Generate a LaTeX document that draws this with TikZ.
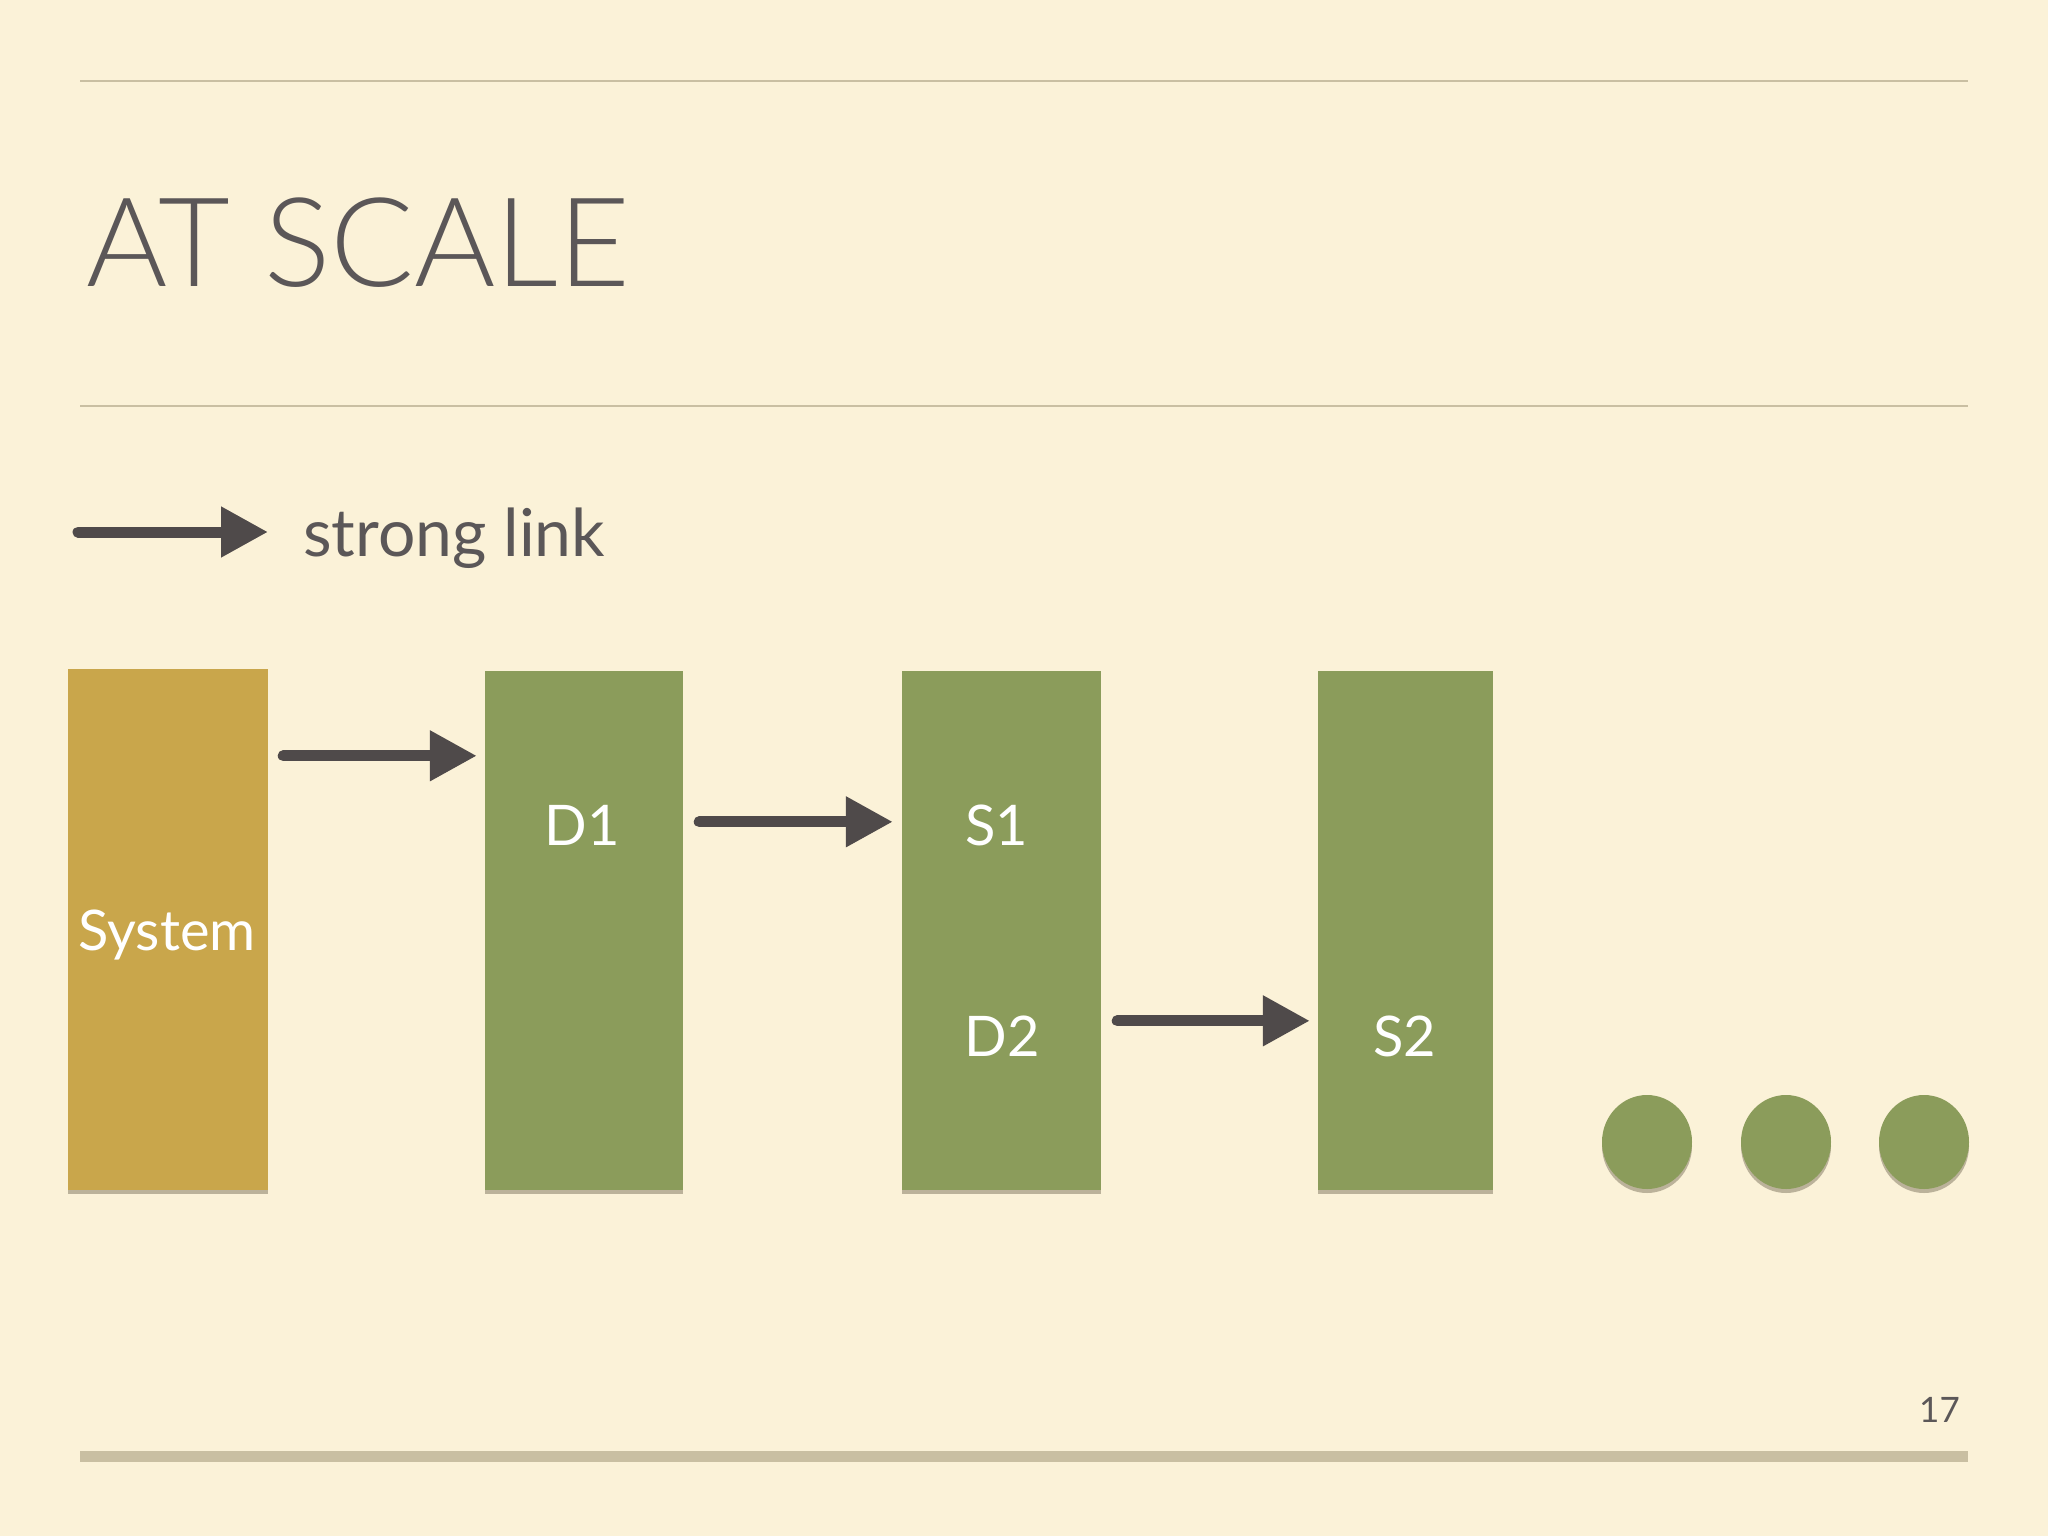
\documentclass[tikz,border=0pt]{standalone}
\usepackage{fontspec}
\setmainfont{Lato}
\newfontfamily\titlefont{Lato Light}
\usetikzlibrary{arrows.meta,shadows,calc,shapes.geometric}
\definecolor{bg}{HTML}{FBF2D8}
\definecolor{rulec}{HTML}{C9BFA2}
\definecolor{txt}{HTML}{5B5758}
\definecolor{sysc}{HTML}{C9A64B}
\definecolor{grn}{HTML}{8B9C5B}
\definecolor{arrc}{HTML}{4F4A4A}
\definecolor{shd}{HTML}{6E6650}
\tikzset{
  box/.style={draw=none, inner sep=0pt, drop shadow={shadow xshift=0pt, shadow yshift=-4pt, fill=shd, opacity=0.45}},
  dotnode/.style={ellipse, fill=grn, draw=none, inner sep=0pt, minimum width=90pt, minimum height=94pt, drop shadow={shadow xshift=0pt, shadow yshift=-4pt, fill=shd, opacity=0.45}},
  lbl/.style={anchor=base, inner sep=0pt, text=white, font=\fontsize{56}{56}\selectfont},
  link/.style={line width=11pt, draw=arrc, line cap=round, -{Triangle[length=47pt,width=48pt]}},
  rule/.style={draw=rulec, line width=2pt}
}
\begin{document}
\begin{tikzpicture}[x=1pt,y=-1pt]
\fill[bg] (0,0) rectangle (2048,1536);
\useasboundingbox (0,0) rectangle (2048,1536);
% rules
\draw[rule] (80,81) -- (1968,81);
\draw[rule] (80,406) -- (1968,406);
\draw[draw=rulec, line width=11pt] (80,1456) -- (1968,1456);
% title
\node[anchor=base west, inner sep=0pt, text=txt, font=\titlefont\fontsize{124}{124}\selectfont] (title) at (86,286) {AT SCALE};
% legend
\node[anchor=base west, inner sep=0pt, text=txt, font=\fontsize{66}{66}\selectfont] (lgt) at (303,556) {strong link};
\coordinate (lgs) at (78,532);
\draw[link] (lgs) -- ($(lgt.base west)+(-35,-24)$);
% boxes
\node[box, fill=sysc, minimum width=200pt, minimum height=521pt] (sys) at (168,929.5) {};
\node[box, fill=grn, minimum width=198pt, minimum height=519pt] (d1) at (584,930.5) {};
\node[box, fill=grn, minimum width=199pt, minimum height=519pt] (s1) at (1001.5,930.5) {};
\node[box, fill=grn, minimum width=175pt, minimum height=519pt] (s2) at (1405.5,930.5) {};
% labels
\node[lbl] (lsys) at (167,950) {System};
\node[lbl] (ld1) at (582,845) {D1};
\node[lbl] (ls1) at (997,845) {S1};
\node[lbl] (ld2) at (1002,1056) {D2};
\node[lbl] (ls2) at (1405,1056) {S2};
% arrows
\draw[link] ($(sys.north east)+(15,87)$) -- ($(d1.north west)+(-8,85)$);
\draw[link] ($(d1.north east)+(16,151)$) -- ($(s1.north west)+(-9,151)$);
\draw[link] ($(s1.north east)+(16,350)$) -- ($(s2.north west)+(-8,350)$);
% dots
\node[dotnode] (dot1) at (1647,1142) {};
\node[dotnode] (dot2) at (1786,1142) {};
\node[dotnode] (dot3) at (1924,1142) {};
% page number
\node[anchor=base east, inner sep=0pt, text=txt, font=\fontsize{35}{35}\selectfont] (pg) at (1960,1422) {17};
\end{tikzpicture}
\end{document}
